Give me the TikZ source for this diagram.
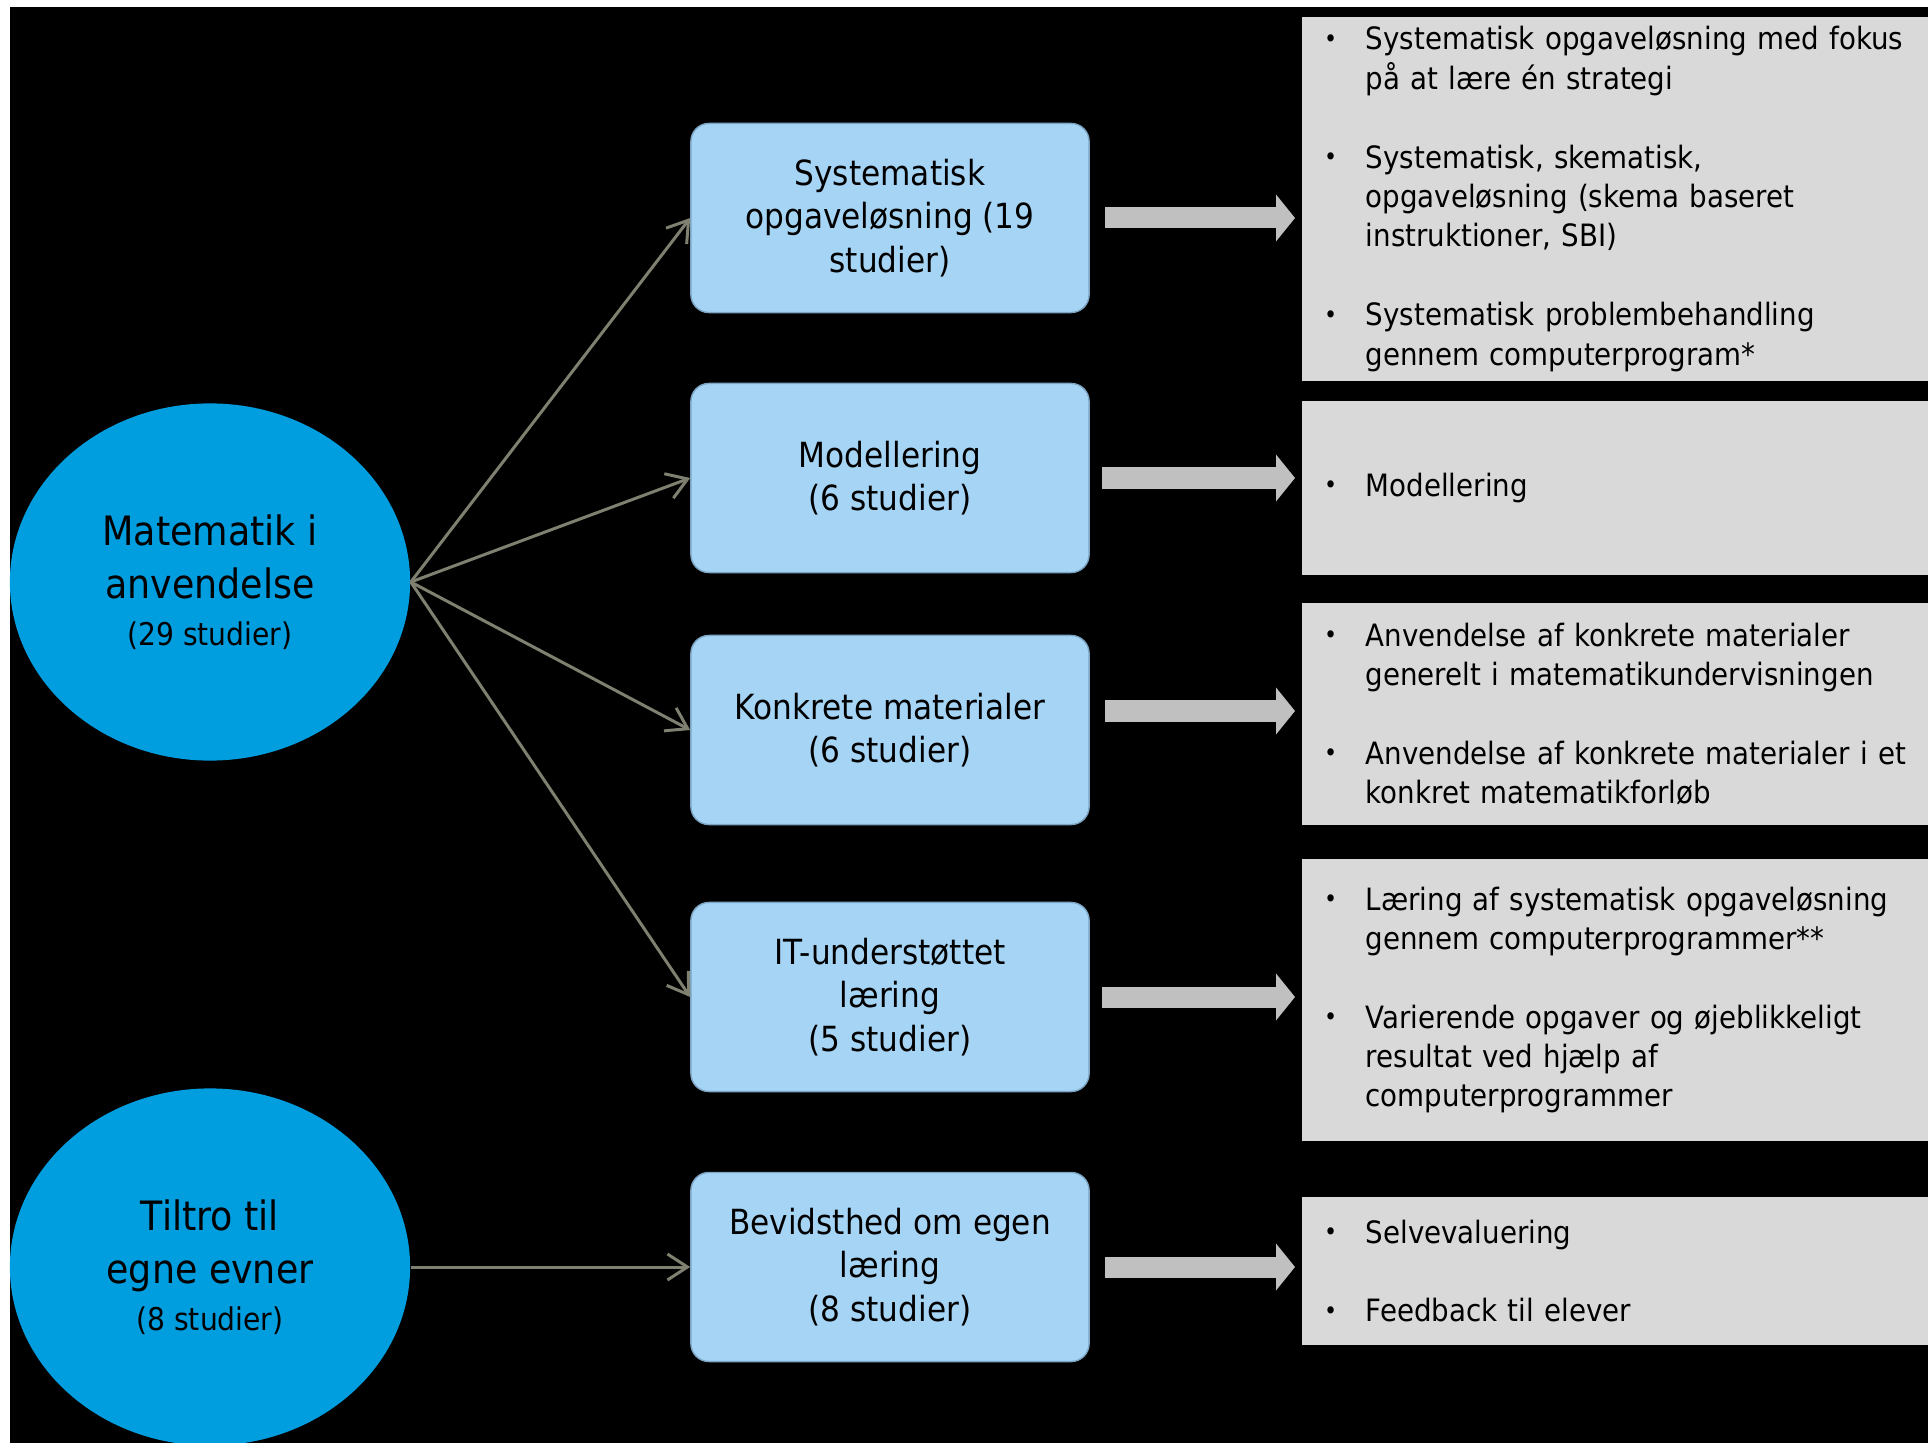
\documentclass[tikz,border=0pt]{standalone}
\usepackage{fontspec}
\setmainfont{DejaVu Sans}[FakeStretch=0.9]
\usetikzlibrary{arrows.meta,positioning,calc,shapes.geometric}

\definecolor{circblue}{RGB}{0,157,223}
\definecolor{boxblue}{RGB}{166,212,245}
\definecolor{boxedge}{RGB}{125,165,195}
\definecolor{panelgray}{RGB}{217,217,217}
\definecolor{fatgray}{RGB}{192,192,192}
\definecolor{linkgray}{RGB}{128,128,112}

\newcommand{\gbul}{\makebox[5.05mm][l]{\hspace{0.9mm}\raisebox{0.15ex}{\scalebox{0.8}{\textbullet}}}}
\newcommand{\gind}{\hspace*{5.05mm}}

\begin{document}
\begin{tikzpicture}[x=0.01cm, y=-0.01cm,
  topic/.style={ellipse, fill=circblue, minimum width=4cm, minimum height=3.57cm, inner sep=0pt, align=center, font=\fontsize{11.5}{15.3}\selectfont},
  method/.style={rectangle, rounded corners=1.8mm, fill=boxblue, draw=boxedge, line width=0.4pt, minimum width=3.98cm, minimum height=1.89cm, align=center, font=\fontsize{9.85}{12.4}\selectfont},
  panel/.style={rectangle, fill=panelgray, anchor=west, text width=6cm, inner xsep=0.135cm, inner ysep=0.5mm, align=left, font=\fontsize{8.75}{11.2}\selectfont},
  link/.style={-{Straight Barb[length=2mm,width=2.6mm]}, draw=linkgray, line width=0.85pt},
  fat/.style={-{Triangle[length=1.9mm,width=4.6mm]}, draw=fatgray, line width=2.1mm}]
\useasboundingbox (0,0) rectangle (1928,1443);
\fill[white] (0,0) rectangle (1928,1443);
\fill[black] (10,7) rectangle (1928,1443);

\node[topic] (mat) at (210,582) {Matematik i\\anvendelse\\[-2pt]{\fontsize{8.9}{11}\selectfont (29 studier)}};
\node[topic] (tro) at (210,1267) {Tiltro til\\egne evner\\[-2pt]{\fontsize{8.9}{11}\selectfont (8 studier)}};

\node[method] (sys) at (890,218) {Systematisk\\opgaveløsning (19\\studier)};
\node[method] (mod) at (890,478) {Modellering\\(6 studier)};
\node[method] (kon) at (890,730) {Konkrete materialer\\(6 studier)};
\node[method] (itl) at (890,997) {IT-understøttet\\læring\\(5 studier)};
\node[method] (bev) at (890,1267) {Bevidsthed om egen\\læring\\(8 studier)};

\node[panel, minimum height=3.64cm] (pan1) at (1301,199) {%
\gbul Systematisk opgaveløsning med fokus\\
\gind på at lære én strategi\\[11.2pt]
\gbul Systematisk, skematisk,\\
\gind opgaveløsning (skema baseret\\
\gind instruktioner, SBI)\\[11.2pt]
\gbul Systematisk problembehandling\\
\gind gennem computerprogram*};
\node[panel, minimum height=1.73cm] (pan2) at (1301,488) {\gbul Modellering};
\node[panel, minimum height=2.22cm] (pan3) at (1301,714) {%
\gbul Anvendelse af konkrete materialer\\
\gind generelt i matematikundervisningen\\[11.2pt]
\gbul Anvendelse af konkrete materialer i et\\
\gind konkret matematikforløb};
\node[panel, minimum height=2.82cm] (pan4) at (1301,1000) {%
\gbul Læring af systematisk opgaveløsning\\
\gind gennem computerprogrammer**\\[11.2pt]
\gbul Varierende opgaver og øjeblikkeligt\\
\gind resultat ved hjælp af\\
\gind computerprogrammer};
\node[panel, minimum height=1.48cm] (pan5) at (1301,1271) {%
\gbul Selvevaluering\\[11.2pt]
\gbul Feedback til elever};

\draw[link] (mat.east) -- (sys.west);
\draw[link] (mat.east) -- (mod.west);
\draw[link] (mat.east) -- (kon.west);
\draw[link] (mat.east) -- (itl.west);
\draw[link] (tro.east) -- (bev.west);

\draw[fat] ([xshift=0.15cm]sys.east) -- ([xshift=-0.06cm]sys.east -| pan1.west);
\draw[fat] ([xshift=0.12cm]mod.east) -- ([xshift=-0.06cm]mod.east -| pan2.west);
\draw[fat] ($(kon.east)+(15,-19)$) -- ($(kon.east -| pan3.west)+(-6,-19)$);
\draw[fat] ([xshift=0.12cm]itl.east) -- ([xshift=-0.06cm]itl.east -| pan4.west);
\draw[fat] ([xshift=0.15cm]bev.east) -- ([xshift=-0.06cm]bev.east -| pan5.west);
\end{tikzpicture}
\end{document}
